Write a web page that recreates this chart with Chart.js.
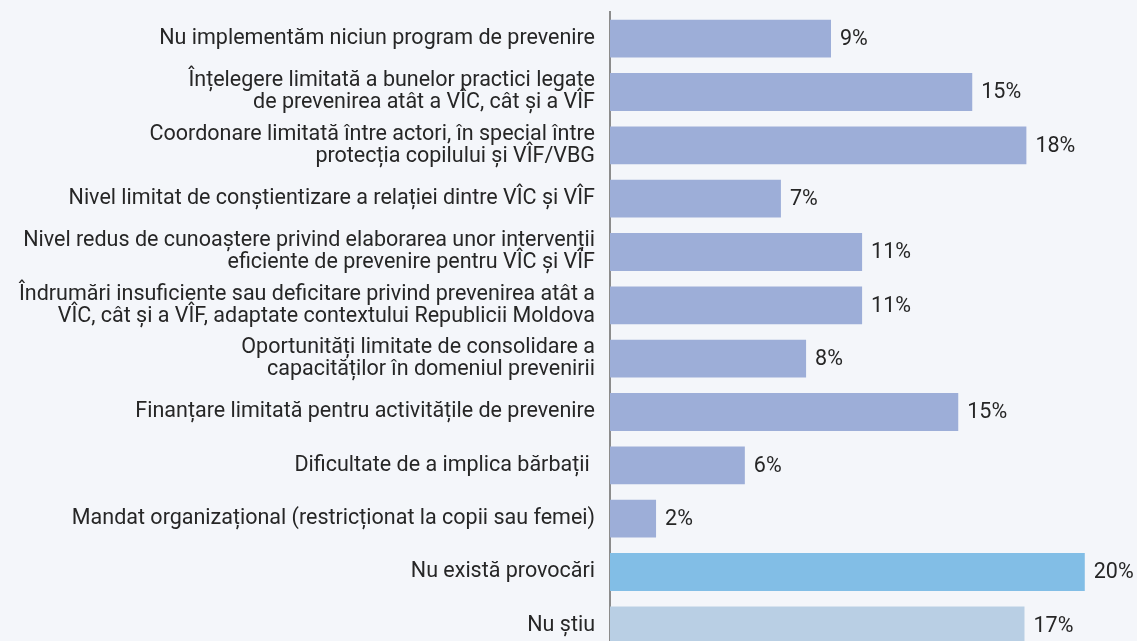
<!DOCTYPE html>
<html>
<head>
<meta charset="utf-8">
<script src="https://cdn.jsdelivr.net/npm/chart.js@4.4.1/dist/chart.umd.min.js"></script>
<style>
  html, body { margin: 0; padding: 0; background: #f4f6fa; overflow: hidden; }
  #wrap { width: 1137px; height: 664px; position: relative; }
</style>
</head>
<body>
<div id="wrap"><canvas id="c"></canvas></div>
<script>
const categories = [
  ["Nu implementăm niciun program de prevenire"],
  ["Înțelegere limitată a bunelor practici legate", "de prevenirea atât a VÎC, cât și a VÎF"],
  ["Coordonare limitată între actori, în special între", "protecția copilului și VÎF/VBG"],
  ["Nivel limitat de conștientizare a relației dintre VÎC și VÎF"],
  ["Nivel redus de cunoaștere privind elaborarea unor intervenții", "eficiente de prevenire pentru VÎC și VÎF"],
  ["Îndrumări insuficiente sau deficitare privind prevenirea atât a", "VÎC, cât și a VÎF, adaptate contextului Republicii Moldova"],
  ["Oportunități limitate de consolidare a", "capacităților în domeniul prevenirii"],
  ["Finanțare limitată pentru activitățile de prevenire"],
  ["Dificultate de a implica bărbații "],
  ["Mandat organizațional (restricționat la copii sau femei)"],
  ["Nu există provocări"],
  ["Nu știu"]
];
const values = [9.31, 15.26, 17.54, 7.20, 10.62, 10.62, 8.26, 14.67, 5.68, 1.94, 20.0, 17.46];
const valueLabels = ["9%", "15%", "18%", "7%", "11%", "11%", "8%", "15%", "6%", "2%", "20%", "17%"];
const barColors = ["#9daed8","#9daed8","#9daed8","#9daed8","#9daed8","#9daed8","#9daed8","#9daed8","#9daed8","#9daed8","#82bee6","#b9cfe4"];

const FONT = "Roboto, 'Open Sans', sans-serif";
const TEXT = "#262626";

const labelPlugin = {
  id: 'valueLabels',
  afterDatasetsDraw(chart) {
    const ctx = chart.ctx;
    const meta = chart.getDatasetMeta(0);
    ctx.save();
    ctx.font = "21.5px " + FONT;
    ctx.fillStyle = TEXT;
    ctx.textAlign = "left";
    ctx.textBaseline = "middle";
    meta.data.forEach((bar, i) => {
      ctx.fillText(valueLabels[i], bar.x + 9, bar.y + 1);
    });
    ctx.restore();
  }
};

new Chart(document.getElementById('c'), {
  type: 'bar',
  data: {
    labels: categories,
    datasets: [{
      data: values,
      backgroundColor: barColors,
      borderWidth: 0,
      categoryPercentage: 1,
      barPercentage: 0.71
    }]
  },
  options: {
    indexAxis: 'y',
    responsive: true,
    maintainAspectRatio: false,
    animation: false,
    layout: { padding: { top: 12, bottom: 12, left: 0, right: 0 } },
    plugins: { legend: { display: false }, tooltip: { enabled: false } },
    scales: {
      x: { display: false, min: 0, max: 22.2 },
      y: {
        afterFit(s) { s.width = 610; s.paddingTop = 0; s.paddingBottom = 0; },
        grid: { display: false, drawTicks: false },
        border: { display: true, color: "#8c8c8c", width: 2 },
        ticks: {
          padding: 15,
          color: TEXT,
          font: { family: FONT, size: 21.5, lineHeight: 1.02 }
        }
      }
    }
  },
  plugins: [labelPlugin]
});
</script>
</body>
</html>
